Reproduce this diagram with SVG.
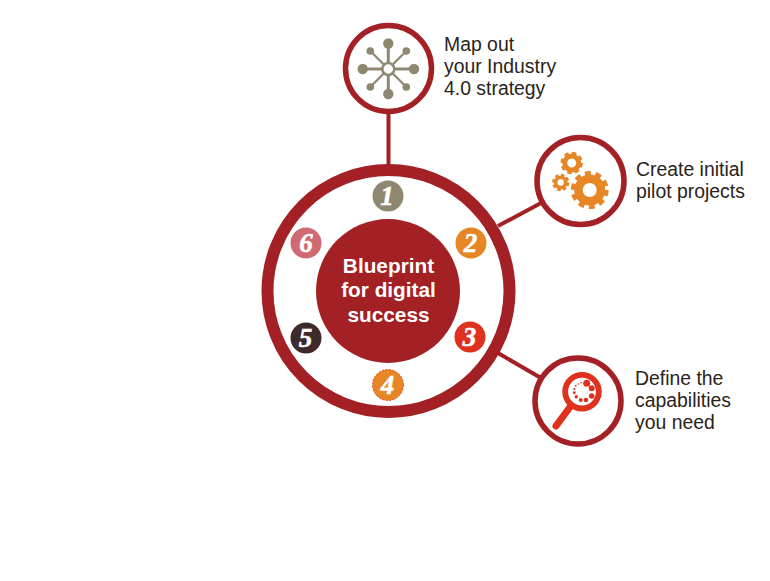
<svg xmlns="http://www.w3.org/2000/svg" width="770" height="581" viewBox="0 0 770 581">
<style>
.ring{fill:#fff;stroke:#a32025;stroke-width:5.5}
.lbl{font-family:"Liberation Sans",Arial,sans-serif;font-size:19.4px;fill:#2b2320}
.ctr{font-family:"Liberation Sans",Arial,sans-serif;font-size:20.8px;font-weight:bold;fill:#fff;text-anchor:middle}
.num{font-family:"Liberation Serif",serif;font-size:27px;font-weight:bold;font-style:italic;fill:#fff;stroke:#fff;stroke-width:0.6;text-anchor:middle}
.tan{fill:#8f8770}.spoke{stroke:#8f8770;stroke-width:3}
.org{fill:none;stroke:#e68625}
.dot{fill:#e0301e}
</style>
<rect width="770" height="581" fill="#fff"/>
<g id="connectors" stroke="#a32025" stroke-width="4" fill="none">
<line x1="388.500" y1="112" x2="388.500" y2="166"/>
<line x1="498" y1="226" x2="541" y2="203"/>
<line x1="498" y1="353" x2="541" y2="378"/>
</g>
<g id="hub">
<circle cx="388.500" cy="291" r="121" fill="#fff" stroke="#a32025" stroke-width="12"/>
<circle cx="388" cy="291" r="72" fill="#a32025"/>
<text class="ctr" x="388.500" y="273">Blueprint</text>
<text class="ctr" x="388.500" y="297">for digital</text>
<text class="ctr" x="388.500" y="322">success</text>
</g>
<g id="n1"><circle cx="388" cy="196" r="15.500" fill="#8f8770"/><text class="num" x="387" y="204.500">1</text></g>
<g id="n2"><circle cx="471" cy="243" r="15.500" fill="#e68625"/><text class="num" x="470.500" y="251.500">2</text></g>
<g id="n3"><circle cx="470" cy="337" r="15.500" fill="#e0301e"/><text class="num" x="469.500" y="345.500">3</text></g>
<g id="n4"><circle cx="388" cy="385" r="15.500" fill="#e68625" stroke="#e0301e" stroke-width="0.800" stroke-dasharray="2 1.500"/><text class="num" x="387.500" y="393.500">4</text></g>
<g id="n5"><circle cx="306" cy="338" r="15.500" fill="#3f2a2a"/><text class="num" x="305.500" y="346.500">5</text></g>
<g id="n6"><circle cx="306" cy="243" r="15.500" fill="#cf6a72"/><text class="num" x="306" y="251.500">6</text></g>
<g id="map">
<circle class="ring" cx="388.500" cy="68.500" r="43"/>
<g class="spoke">
<line x1="388.300" y1="43" x2="388.300" y2="94"/>
<line x1="363" y1="69" x2="414" y2="69"/>
<line x1="370.300" y1="51" x2="406.300" y2="87" stroke-width="2.200"/>
<line x1="406.300" y1="51" x2="370.300" y2="87" stroke-width="2.200"/>
</g>
<g class="tan">
<circle cx="388.300" cy="43.500" r="5.200"/><circle cx="388.300" cy="94" r="5.200"/>
<circle cx="362.700" cy="69" r="5.200"/><circle cx="414" cy="69" r="5.200"/>
<circle cx="370.300" cy="51" r="3.800"/><circle cx="406.300" cy="51" r="3.800"/>
<circle cx="370.300" cy="87" r="3.800"/><circle cx="406.300" cy="87" r="3.800"/>
</g>
<circle cx="388.300" cy="69" r="6" fill="#fff" stroke="#8f8770" stroke-width="2.500"/>
<text class="lbl" x="444" y="51">Map out</text>
<text class="lbl" x="444" y="73">your Industry</text>
<text class="lbl" x="444" y="95">4.0 strategy</text>
</g>
<g id="pilot">
<circle class="ring" cx="580.500" cy="181" r="43.500"/>
<circle class="org" cx="589.700" cy="190" r="11.250" stroke-width="8.500"/>
<circle class="org" cx="589.700" cy="190" r="17" stroke-width="4" stroke-dasharray="6 4.680"/>
<circle class="org" cx="571.700" cy="163" r="7" stroke-width="5"/>
<circle class="org" cx="571.700" cy="163" r="10" stroke-width="2.600" stroke-dasharray="4.400 3.450"/>
<circle class="org" cx="560.700" cy="182.500" r="5.100" stroke-width="3.800"/>
<circle class="org" cx="560.700" cy="182.500" r="7.600" stroke-width="2.200" stroke-dasharray="3.500 2.470"/>
<text class="lbl" x="636" y="176">Create initial</text>
<text class="lbl" x="636" y="198">pilot projects</text>
</g>
<g id="define">
<circle class="ring" cx="578" cy="401" r="43"/>
<line x1="570" y1="407" x2="556" y2="426" stroke="#e0301e" stroke-width="7" stroke-linecap="round"/>
<circle cx="582" cy="391.700" r="16.800" fill="#fff" stroke="#e0301e" stroke-width="5.800"/>
<circle class="dot" cx="586.700" cy="383.300" r="3.500"/><circle class="dot" cx="591.700" cy="388.300" r="3"/>
<circle class="dot" cx="591.700" cy="396" r="2.800"/><circle class="dot" cx="586" cy="400" r="2.300"/>
<circle class="dot" cx="580.700" cy="400" r="2"/><circle class="dot" cx="576.300" cy="396.700" r="1.700"/>
<circle class="dot" cx="574.300" cy="392.700" r="1.400"/><circle class="dot" cx="574.300" cy="389" r="1.100"/>
<circle class="dot" cx="575.700" cy="385.700" r="0.900"/><circle class="dot" cx="578.300" cy="384" r="0.800"/>
<circle class="dot" cx="581" cy="382.700" r="0.800"/>
<text class="lbl" x="635" y="385">Define the</text>
<text class="lbl" x="635" y="407">capabilities</text>
<text class="lbl" x="635" y="429">you need</text>
</g>
</svg>
